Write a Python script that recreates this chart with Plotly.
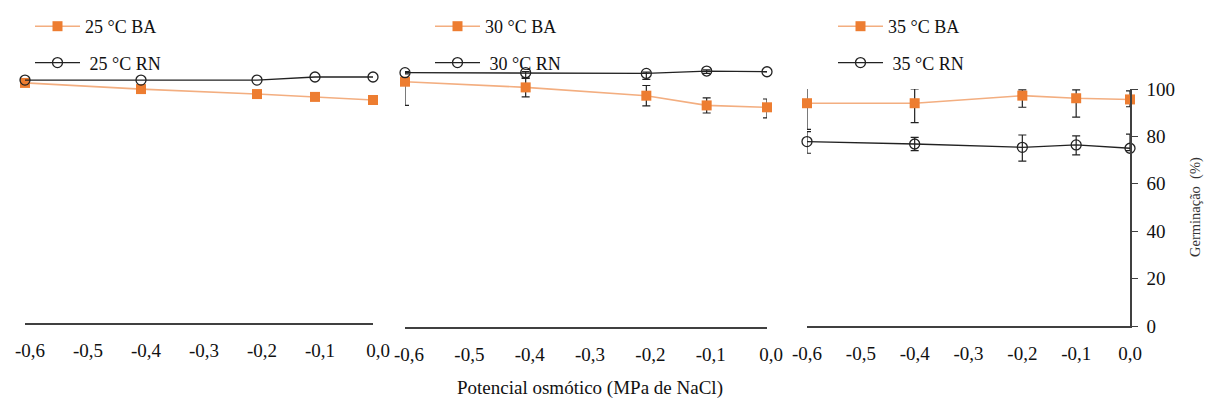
import plotly.graph_objects as go

# ---------------- data ----------------
potential = [-0.6, -0.4, -0.2, -0.1, 0.0]
tick_vals = [-0.6, -0.5, -0.4, -0.3, -0.2, -0.1, 0.0]
tick_text = ["-0,6", "-0,5", "-0,4", "-0,3", "-0,2", "-0,1", "0,0"]
y_ticks = [0, 20, 40, 60, 80, 100]

ba25 = [101.3, 98.7, 96.6, 95.4, 94.1]
rn25 = [102.5, 102.5, 102.5, 103.8, 103.8]

ba30 = [103.5, 101.1, 97.6, 93.5, 92.7]
ba30_up = [0.5, 4.0, 4.3, 3.2, 3.5]
ba30_dn = [10.0, 4.0, 4.3, 3.2, 4.5]
rn30 = [107.3, 107.3, 107.0, 108.0, 107.7]
rn30_up = [0.5, 0.5, 0.5, 0.5, 0.0]
rn30_dn = [0.5, 2.4, 2.5, 1.0, 0.0]

ba35 = [94.0, 94.0, 97.2, 96.1, 95.6]
ba35_up = [6.5, 6.0, 2.4, 3.5, 3.6]
ba35_dn = [11.0, 8.2, 4.9, 8.0, 3.1]
rn35 = [77.8, 76.8, 75.4, 76.4, 75.0]
rn35_up = [4.2, 2.8, 5.2, 3.8, 6.0]
rn35_dn = [4.9, 2.8, 5.8, 4.2, 1.0]

names_ba = ["25 °C BA", "30 °C BA", "35 °C BA"]
names_rn = ["\u00a025 °C RN", "\u00a030 °C RN", "\u00a035 °C RN"]

FONT = "'Liberation Serif', 'Times New Roman', serif"
ORANGE = "#ED7D31"
ORANGE_LINE = "#F3AE80"
BLACK = "#222222"
AXIS = "#404040"

W, H = 1210, 408

fig = go.Figure()

def ba_trace(y, name, xa, ya, leg, up=None, dn=None):
    err = None
    if up is not None:
        err = dict(type="data", symmetric=False, array=up, arrayminus=dn,
                   color=BLACK, thickness=1.2, width=4)
    return go.Scatter(x=potential, y=y, name=name, mode="lines+markers",
                      line=dict(color=ORANGE_LINE, width=1.6),
                      marker=dict(symbol="square", size=10, color=ORANGE),
                      error_y=err, xaxis=xa, yaxis=ya, legend=leg,
                      legendgroup=name, cliponaxis=False)

def rn_trace(y, name, xa, ya, leg, up=None, dn=None):
    err = None
    if up is not None:
        err = dict(type="data", symmetric=False, array=up, arrayminus=dn,
                   color=BLACK, thickness=1.2, width=4)
    return go.Scatter(x=potential, y=y, name=name, mode="lines+markers",
                      line=dict(color=BLACK, width=1.3),
                      marker=dict(symbol="circle-open", size=10, color=BLACK,
                                  line=dict(width=1.3, color=BLACK)),
                      error_y=err, xaxis=xa, yaxis=ya, legend=leg,
                      legendgroup=name, cliponaxis=False)

fig.add_trace(ba_trace(ba25, names_ba[0], "x", "y", "legend"))
fig.add_trace(rn_trace(rn25, names_rn[0], "x", "y", "legend"))
fig.add_trace(ba_trace(ba30, names_ba[1], "x2", "y2", "legend2", ba30_up, ba30_dn))
fig.add_trace(rn_trace(rn30, names_rn[1], "x2", "y2", "legend2", rn30_up, rn30_dn))
fig.add_trace(ba_trace(ba35, names_ba[2], "x3", "y3", "legend3", ba35_up, ba35_dn))
fig.add_trace(rn_trace(rn35, names_rn[2], "x3", "y3", "legend3", rn35_up, rn35_dn))

def px_x(p):
    return p / W

def px_y(p):
    return 1 - p / H

scale = 2.37  # px per percent
xcommon = dict(range=[-0.6, 0.0], tickvals=tick_vals, ticktext=tick_text,
               showline=True, linecolor=AXIS, linewidth=1.6, showgrid=False,
               zeroline=False, ticks="", ticklabelstandoff=9,
               tickfont=dict(family=FONT, size=19, color="#111"))

fig.update_layout(
    width=W, height=H, margin=dict(l=0, r=0, t=0, b=0, autoexpand=False),
    paper_bgcolor="white", plot_bgcolor="white",
    font=dict(family=FONT, color="#111"),
    xaxis=dict(domain=[px_x(25), px_x(373)], anchor="y", ticklabelshift=5, **xcommon),
    xaxis2=dict(domain=[px_x(405), px_x(767)], anchor="y2", ticklabelshift=4, **xcommon),
    xaxis3=dict(domain=[px_x(807), px_x(1130)], anchor="y3", **xcommon),
    yaxis=dict(domain=[px_y(323), px_y(60)], range=[0, (323 - 60) / scale],
               visible=False, anchor="x"),
    yaxis2=dict(domain=[px_y(327), px_y(60)], range=[0, (327 - 60) / scale],
                visible=False, anchor="x2"),
    yaxis3=dict(domain=[px_y(326), px_y(89)], range=[0, 100], anchor="x3",
                side="right", tickvals=y_ticks, showline=True, linecolor=AXIS,
                linewidth=1.6, ticks="outside", ticklen=6, tickwidth=1.4,
                tickcolor=AXIS, showgrid=False, zeroline=False,
                ticklabelstandoff=5,
                tickfont=dict(family=FONT, size=19, color="#111")),
    yaxis4=dict(overlaying="y3", anchor="x3", range=[0, 100], side="right",
                tickvals=y_ticks, ticks="inside", ticklen=6, tickwidth=1.4,
                tickcolor=AXIS, showticklabels=False, showline=False,
                showgrid=False, zeroline=False),
    showlegend=True,
)

legcommon = dict(xanchor="left", yanchor="top", bgcolor="rgba(0,0,0,0)",
                 font=dict(family=FONT, size=18, color="#111"),
                 tracegroupgap=10, itemwidth=45, orientation="v")
fig.update_layout(
    legend=dict(x=px_x(30), y=px_y(8), **legcommon),
    legend2=dict(x=px_x(430), y=px_y(8), **legcommon),
    legend3=dict(x=px_x(833), y=px_y(8), **legcommon),
)

fig.add_annotation(text="Potencial osmótico (MPa de NaCl)", xref="paper", yref="paper",
                   x=px_x(590), y=px_y(388), xanchor="center", yanchor="middle",
                   showarrow=False, font=dict(family=FONT, size=19, color="#111"))
fig.add_annotation(text="Germinação  (%)", xref="paper", yref="paper",
                   x=px_x(1195), y=px_y(207), xanchor="center", yanchor="middle",
                   showarrow=False, textangle=-90,
                   font=dict(family=FONT, size=14.5, color="#333"))

fig.write_html("out.html")
